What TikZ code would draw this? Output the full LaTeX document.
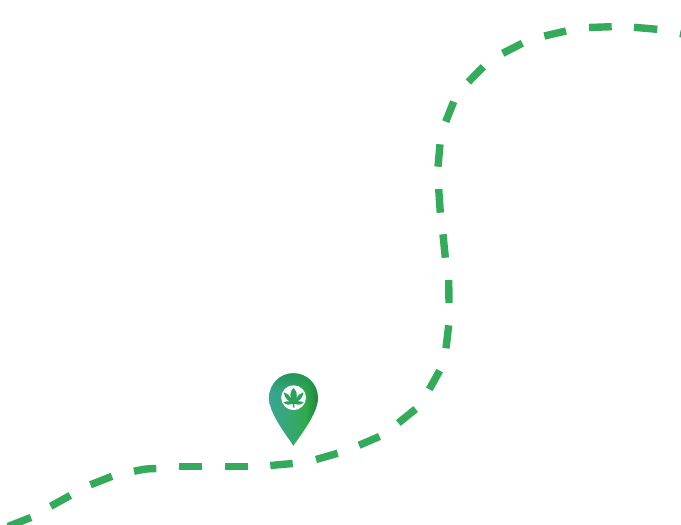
\documentclass[tikz,border=0pt]{standalone}
\usepackage{xcolor}
\usetikzlibrary{calc,fadings}
\definecolor{routegreen}{HTML}{34AB5B}
\definecolor{pinteal}{HTML}{3AA596}
\definecolor{pingreen}{HTML}{2FAB4B}
\definecolor{pindark}{HTML}{1E8240}
\definecolor{pintop}{HTML}{1E8F55}
\definecolor{leafgreen}{HTML}{2BA25A}
\pgfdeclarehorizontalshading{pinshade}{100bp}{
  color(0bp)=(pinteal); color(25bp)=(pinteal); color(50bp)=(pinteal!45!pingreen);
  color(62bp)=(pingreen); color(75bp)=(pindark); color(100bp)=(pindark)}
\tikzset{
  routedash/.style={draw=routegreen,line width=7.4pt,line cap=butt},
  pinbody/.style={shading=pinshade,shading angle=0}
}
\begin{document}
\begin{tikzpicture}[x=1pt,y=-1pt]
\useasboundingbox (0,0) rectangle (681,525);
\fill[white] (0,0) rectangle (681,525);
\begin{scope}
\clip (0,0) rectangle (681,525);
\foreach \ax/\ay/\mx/\my/\bx/\by in {
  8/526.5/20/521.5/31/517.5,
  50.7/506.3/60.5/501/70.3/495.4,
  90.5/484.8/101/480.2/112/476.3,
  134/471.3/145/469.2/156.3/468.5,
  179/466.5/190/466.5/202/466.5,
  225/466.5/236/466.5/248/466.5,
  270.3/465.5/281.5/464.8/292.7/463.5,
  316/459.5/327/456.6/337.7/453.3,
  359/445.3/369.3/441.2/379.5/436.5,
  398.3/423/407.3/416.3/415.7/409,
  429.3/389.3/434.8/380.2/439.7/370.7,
  446/348.3/447.8/337/448.7/325.3,
  449/303/449.1/291.5/448.7/280,
  445.3/257.7/444.2/246/443/234.3,
  440.3/212.7/439.4/201/438.7/189,
  438/166.7/438.7/155.5/440/144.3,
  445.7/121.7/449.3/111.5/453.7/101.7,
  468.3/82/475.5/74/483.3/66.7,
  502.7/53.3/512.3/48/522.3/43.3,
  544.3/36/555/33.2/566/31,
  589/27.5/600/26.8/611.7/26.7,
  634/27.3/645.5/28/657.3/29.3,
  680/33.5/684/34/688/35}{
  \draw[routedash] (\ax,\ay) .. controls ($1.3333*(\mx,\my)-0.1667*(\ax,\ay)-0.1667*(\bx,\by)$) .. (\bx,\by);
}
\end{scope}
\def\pinoutline{(293.4,445.8)
  .. controls (288,437) and (269,414) .. (269,398)
  .. controls (269,384) and (280,373.2) .. (293.4,373.2)
  .. controls (307,373.2) and (318,384) .. (318,398)
  .. controls (318,414) and (299,437) .. (293.4,445.8) -- cycle}
\path[pinbody] \pinoutline;
\begin{scope}
\clip \pinoutline;
\fill[pintop,path fading=south,fill opacity=0.8] (265,372) rectangle (322,392);
\end{scope}
\fill[white] (293.6,397.7) circle (12.4);
\fill[leafgreen] (293.5,388)
  .. controls (296.5,391) and (297.6,394.5) .. (296.2,398.2)
  .. controls (297.8,395.6) and (300,393.4) .. (303.3,392.2)
  .. controls (303,396) and (301.2,399.4) .. (297.6,401.3)
  .. controls (299.8,400.9) and (302,401.4) .. (304,402.8)
  .. controls (301.4,404.8) and (298,405.1) .. (294.5,403.8)
  -- (294.3,407.7) -- (292.9,407.7) -- (292.7,403.8)
  .. controls (289.2,405.1) and (285.8,404.8) .. (283.2,402.8)
  .. controls (285.2,401.4) and (287.4,400.9) .. (289.6,401.3)
  .. controls (286,399.4) and (284.2,396) .. (283.9,392.2)
  .. controls (287.2,393.4) and (289.4,395.6) .. (291,398.2)
  .. controls (289.6,394.5) and (290.5,391) .. (293.5,388) -- cycle;
\end{tikzpicture}
\end{document}
